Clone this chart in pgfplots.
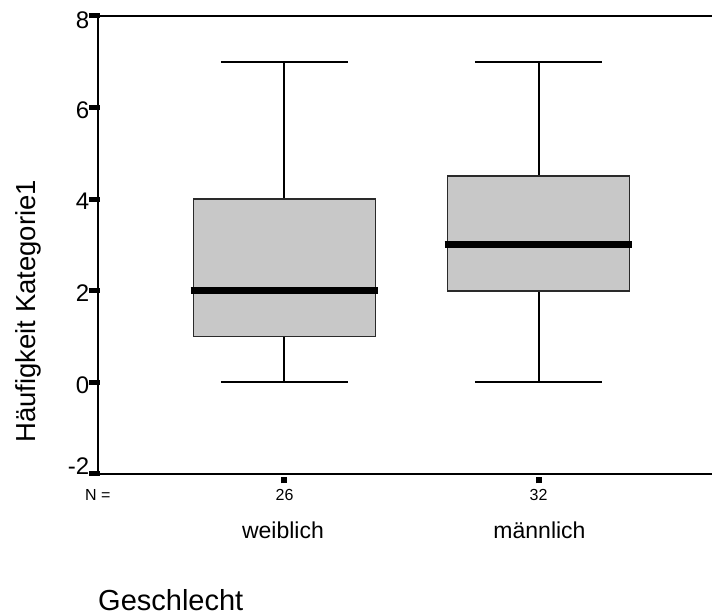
\documentclass[border=0pt]{standalone}
\usepackage{fontspec}
\setmainfont{Liberation Sans}
\usepackage{pgfplots}
\pgfplotsset{compat=1.18}
\usepgfplotslibrary{statistics}
\definecolor{boxfill}{HTML}{C8C8C8}
\definecolor{boxedge}{HTML}{2A2A2A}
\newcommand\ytl[1]{{\fontsize{24bp}{28bp}\selectfont #1}}
\begin{document}
\begin{tikzpicture}
\useasboundingbox (0,0) rectangle (712bp,615bp);
\begin{axis}[
 at={(98bp,141bp)}, anchor=south west,
 scale only axis, width=614bp, height=458bp,
 xmin=0.266, xmax=2.683, ymin=-2, ymax=8,
 ytick={-2,0,2,4,6,8},
 yticklabels={\raisebox{10.5bp}[\height][\depth]{\ytl{-2}},\ytl{0},\ytl{2},\ytl{4},\ytl{6},\raisebox{-2bp}[\height][\depth]{\ytl{8}}},
 xtick={1,2}, xticklabels={},
 xtick pos=bottom, ytick pos=left,
 axis line style={draw=none},
 tick align=outside,
 major tick length=6bp,
 ytick style={line width=5bp, xshift=-1bp, line cap=rect, black},
 xtick style={line width=6bp, yshift=-3.5bp, black},
 yticklabel style={inner sep=2.5bp, yshift=-2.5bp},
 clip=false,
 boxplot/draw direction=y,
 boxplot/box extend=0.716,
 boxplot/whisker extend=0.5,
 boxplot/every box/.style={draw=boxedge, line width=1.6bp, fill=boxfill},
 boxplot/every whisker/.style={black, line width=2bp},
 boxplot/every median/.style={black, line width=7bp, shorten <=-3bp, shorten >=-3bp},
]
\addplot+[boxplot prepared={lower whisker=0, lower quartile=1, median=2, upper quartile=4, upper whisker=7, draw position=1}, black, solid, line width=2bp] coordinates {};
\addplot+[boxplot prepared={lower whisker=0, lower quartile=2, median=3, upper quartile=4.5, upper whisker=7, draw position=2}, black, solid, line width=2bp] coordinates {};
\draw[line width=1.6bp, black] (rel axis cs:1,1) -- (rel axis cs:0,1) -- (rel axis cs:0,0) -- (rel axis cs:1,0);
\end{axis}
\node[anchor=base west, inner sep=0pt, font=\fontsize{16bp}{18bp}\selectfont] at (85bp,114bp) {N =};
\node[anchor=base, inner sep=0pt, font=\fontsize{16bp}{18bp}\selectfont] at (284.5bp,114bp) {26};
\node[anchor=base, inner sep=0pt, font=\fontsize{16bp}{18bp}\selectfont] at (538.5bp,114bp) {32};
\node[anchor=base, inner sep=0pt, font=\fontsize{23bp}{26bp}\selectfont] at (283bp,76.5bp) {weiblich};
\node[anchor=base, inner sep=0pt, font=\fontsize{23bp}{26bp}\selectfont] at (539.5bp,76.5bp) {männlich};
\node[anchor=base west, inner sep=0pt, font=\fontsize{29bp}{32bp}\selectfont] at (98bp,5bp) {Geschlecht};
\node[anchor=base west, inner sep=0pt, rotate=90, font=\fontsize{27.5bp}{30bp}\selectfont] at (35bp,172bp) {Häufigkeit Kategorie1};
\end{tikzpicture}
\end{document}
